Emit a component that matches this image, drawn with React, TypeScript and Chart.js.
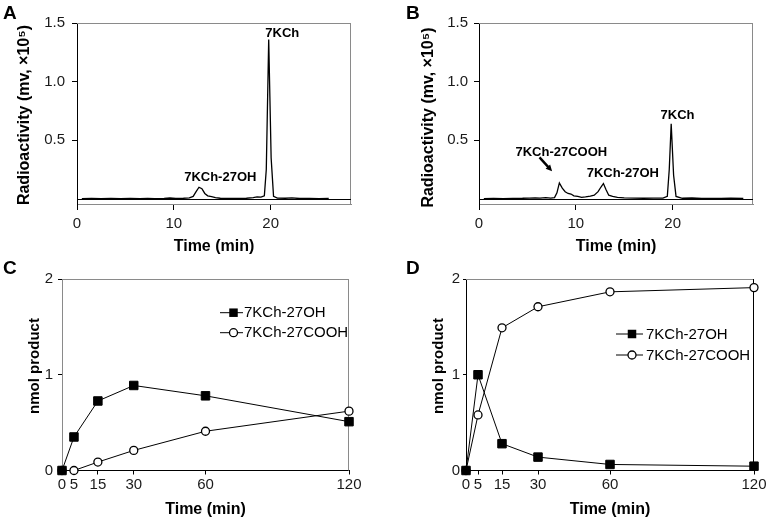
import React, { useEffect, useRef } from 'react';
import { Chart, registerables } from 'chart.js';

Chart.register(...registerables);

const FAMILY = '"Liberation Sans", Arial, Helvetica, sans-serif';
Chart.defaults.font.family = FAMILY;

// ---------------- data ----------------
// Panels A & B: radio-HPLC chromatograms
const CHROM_X_TICKS = [0, 10, 20];
const CHROM_Y_TICKS = [0.5, 1.0, 1.5];
const CHROM_X_MIN = 0;
const CHROM_X_MAX = 28.3;
const CHROM_Y_MIN = -0.045;
const CHROM_Y_MAX = 1.5;

const TRACE_A_TIME = [0.5, 1.5, 2.5, 3.5, 4.5, 5.5, 6.5, 7.3, 8.0, 9.0, 9.6, 10.2, 11.0, 11.6, 12.0, 12.3, 12.6, 12.9, 13.2, 13.5, 13.9, 14.3, 14.8, 15.5, 16.5, 17.5, 18.2, 18.6, 19.0, 19.35, 19.55, 19.8, 20.05, 20.3, 20.7, 21.5, 22.2, 23.0, 24.0, 25.0, 26.0];
const TRACE_A_SIGNAL = [0.000, 0.002, 0.000, 0.002, 0.000, 0.002, 0.000, 0.003, 0.001, 0.002, 0.006, 0.003, 0.004, 0.008, 0.020, 0.060, 0.098, 0.085, 0.045, 0.025, 0.018, 0.010, 0.004, 0.003, 0.002, 0.004, 0.010, 0.015, 0.013, 0.025, 0.250, 1.360, 0.350, 0.020, 0.006, 0.004, 0.008, 0.002, 0.003, 0.001, 0.002];
const PEAK_A_TEXT = ['7KCh-27OH', '7KCh'];
const PEAK_A_TIME = [14.8, 21.2];
const PEAK_A_LEVEL = [0.178, 1.41];

const TRACE_B_TIME = [0.5, 1.5, 2.5, 3.5, 4.5, 5.2, 5.8, 6.3, 6.9, 7.4, 7.8, 8.05, 8.3, 8.6, 8.9, 9.2, 9.5, 9.8, 10.2, 10.6, 11.0, 11.5, 11.9, 12.3, 12.6, 12.85, 13.1, 13.4, 13.8, 14.3, 15.0, 16.0, 17.0, 18.0, 19.0, 19.45, 19.65, 19.85, 20.1, 20.35, 21.0, 22.0, 23.0, 24.0, 25.0, 26.0, 27.3];
const TRACE_B_SIGNAL = [0.000, 0.002, 0.001, 0.003, 0.004, 0.006, 0.008, 0.005, 0.009, 0.006, 0.010, 0.050, 0.135, 0.090, 0.060, 0.045, 0.040, 0.025, 0.020, 0.012, 0.015, 0.022, 0.030, 0.060, 0.100, 0.130, 0.080, 0.030, 0.020, 0.012, 0.008, 0.006, 0.004, 0.005, 0.006, 0.020, 0.250, 0.640, 0.200, 0.020, 0.004, 0.006, 0.002, 0.003, 0.002, 0.004, 0.002];
const PEAK_B_TEXT = ['7KCh-27COOH', '7KCh-27OH', '7KCh'];
const PEAK_B_TIME = [8.5, 14.85, 20.5];
const PEAK_B_LEVEL = [0.395, 0.217, 0.71];
const ARROW_B_TIME = [6.25, 7.55];
const ARROW_B_LEVEL = [0.353, 0.234];

// Panels C & D: time courses
const TIME_POINTS = [0, 5, 15, 30, 60, 120];
const PRODUCT_Y_TICKS = [0, 1, 2];
const SERIES_NAMES = ['7KCh-27OH', '7KCh-27COOH'];
const C_OH = [0, 0.35, 0.726, 0.888, 0.78, 0.51];
const C_COOH = [0, 0, 0.088, 0.21, 0.41, 0.62];
const D_OH = [0, 1.0, 0.28, 0.14, 0.063, 0.045];
const D_COOH = [0, 0.58, 1.49, 1.71, 1.866, 1.91];

// ---------------- helpers ----------------
const GREY = '#8a8a8a';

function overlay(o: any) {
  return {
    id: 'overlay',
    beforeDatasetsDraw(chart: any) {
      const { ctx, chartArea: a, scales } = chart;
      ctx.save();
      ctx.lineWidth = 1;
      const T = Math.round(a.top) + 0.5;
      const R = Math.round(a.right) - 0.5;
      ctx.strokeStyle = o.topColor;
      ctx.beginPath();
      ctx.moveTo(a.left, T);
      ctx.lineTo(a.right, T);
      ctx.stroke();
      ctx.strokeStyle = o.rightColor;
      ctx.beginPath();
      ctx.moveTo(R, a.top);
      ctx.lineTo(R, a.bottom);
      ctx.stroke();
      if (o.zeroLine) {
        const y0 = Math.round(scales.y.getPixelForValue(0)) + 0.5;
        ctx.strokeStyle = '#000';
        ctx.beginPath();
        ctx.moveTo(a.left, y0);
        ctx.lineTo(a.right, y0);
        ctx.stroke();
      }
      ctx.restore();
    },
    afterDatasetsDraw(chart: any) {
      const { ctx, chartArea: a, scales } = chart;
      ctx.save();
      // peak annotations
      if (o.peaks) {
        ctx.font = `bold 13px ${FAMILY}`;
        ctx.fillStyle = '#000';
        ctx.textAlign = 'center';
        ctx.textBaseline = 'middle';
        o.peaks.text.forEach((t: string, i: number) => {
          ctx.fillText(t, scales.x.getPixelForValue(o.peaks.time[i]), scales.y.getPixelForValue(o.peaks.level[i]));
        });
      }
      // arrow
      if (o.arrow) {
        const x1 = scales.x.getPixelForValue(o.arrow.time[0]);
        const y1 = scales.y.getPixelForValue(o.arrow.level[0]);
        const x2 = scales.x.getPixelForValue(o.arrow.time[1]);
        const y2 = scales.y.getPixelForValue(o.arrow.level[1]);
        const ang = Math.atan2(y2 - y1, x2 - x1);
        const head = 7;
        ctx.strokeStyle = '#000';
        ctx.fillStyle = '#000';
        ctx.lineWidth = 2.4;
        ctx.beginPath();
        ctx.moveTo(x1, y1);
        ctx.lineTo(x2 - Math.cos(ang) * head * 0.7, y2 - Math.sin(ang) * head * 0.7);
        ctx.stroke();
        ctx.beginPath();
        ctx.moveTo(x2, y2);
        ctx.lineTo(x2 - head * Math.cos(ang - 0.45), y2 - head * Math.sin(ang - 0.45));
        ctx.lineTo(x2 - head * Math.cos(ang + 0.45), y2 - head * Math.sin(ang + 0.45));
        ctx.closePath();
        ctx.fill();
      }
      // legend
      if (o.legend) {
        const L = o.legend;
        ctx.font = `15px ${FAMILY}`;
        ctx.textAlign = 'left';
        ctx.textBaseline = 'middle';
        SERIES_NAMES.forEach((name, i) => {
          const y = L.rows[i];
          ctx.strokeStyle = '#000';
          ctx.lineWidth = 1;
          ctx.beginPath();
          ctx.moveTo(L.x0, y);
          ctx.lineTo(L.x1, y);
          ctx.stroke();
          if (i === 0) {
            ctx.fillStyle = '#000';
            ctx.fillRect(L.mx - 4.25, y - 4.25, 8.5, 8.5);
          } else {
            ctx.fillStyle = '#fff';
            ctx.lineWidth = 1.3;
            ctx.beginPath();
            ctx.arc(L.mx, y, 4, 0, Math.PI * 2);
            ctx.fill();
            ctx.stroke();
          }
          ctx.fillStyle = '#000';
          ctx.fillText(name, L.tx, y + 0.5);
        });
      }
      // y title
      ctx.font = `bold ${o.yTitleSize}px ${FAMILY}`;
      ctx.fillStyle = '#000';
      ctx.textAlign = 'center';
      ctx.textBaseline = 'middle';
      ctx.translate(o.yTitleX, (a.top + a.bottom) / 2 + o.yTitleShift);
      ctx.rotate(-Math.PI / 2);
      ctx.fillText(o.yTitle, 0, 0);
      ctx.restore();
    },
  };
}

function xAxis(p: any) {
  return {
    type: 'linear',
    min: p.min,
    max: p.max,
    afterBuildTicks: (s: any) => {
      s.ticks = p.ticks.map((v: number) => ({ value: v }));
    },
    afterFit: (s: any) => {
      s.height = p.height;
      s.paddingLeft = 0;
      s.paddingRight = 0;
    },
    grid: { drawOnChartArea: false, drawTicks: true, tickLength: p.tickLength, tickColor: '#000', tickWidth: 1 },
    border: { display: true, color: p.borderColor, width: 1 },
    ticks: {
      autoSkip: false,
      maxRotation: 0,
      padding: p.padding,
      color: '#1a1a1a',
      font: { size: 15, family: FAMILY },
      callback: (v: any) => String(v),
    },
    title: {
      display: true,
      text: 'Time (min)',
      color: '#000',
      font: { size: 16, weight: 'bold', family: FAMILY },
      padding: { top: 0, bottom: p.titleBottom },
    },
  };
}

function yAxis(p: any) {
  return {
    type: 'linear',
    min: p.min,
    max: p.max,
    afterBuildTicks: (s: any) => {
      s.ticks = p.ticks.map((v: number) => ({ value: v }));
    },
    afterFit: (s: any) => {
      s.width = p.width;
      s.paddingTop = 0;
      s.paddingBottom = 0;
    },
    grid: { drawOnChartArea: false, drawTicks: true, tickLength: p.tickLength, tickColor: '#000', tickWidth: 1 },
    border: { display: true, color: p.borderColor, width: 1 },
    ticks: {
      autoSkip: false,
      padding: p.padding,
      color: '#1a1a1a',
      font: { size: 15, family: FAMILY },
      callback: p.format,
    },
    title: { display: false },
  };
}

function chromConfig(p: any) {
  return {
    type: 'line',
    data: {
      datasets: [
        {
          data: p.time.map((t: number, i: number) => ({ x: t, y: p.signal[i] })),
          borderColor: '#000',
          borderWidth: 1.3,
          pointRadius: 0,
          tension: 0,
          fill: false,
        },
      ],
    },
    options: {
      animation: false,
      responsive: false,
      devicePixelRatio: 1,
      layout: { padding: { left: 0, top: 23, right: p.padRight, bottom: 0 } },
      plugins: { legend: { display: false }, tooltip: { enabled: false } },
      scales: {
        x: xAxis({ min: CHROM_X_MIN, max: CHROM_X_MAX, ticks: CHROM_X_TICKS, height: 56, tickLength: 6, padding: 5, borderColor: GREY, titleBottom: 3.4 }),
        y: yAxis({ min: CHROM_Y_MIN, max: CHROM_Y_MAX, ticks: CHROM_Y_TICKS, width: p.yWidth, tickLength: 5, padding: p.yPad, borderColor: '#000', format: (v: any) => Number(v).toFixed(1) }),
      },
    },
    plugins: [
      overlay({
        topColor: GREY,
        rightColor: GREY,
        zeroLine: true,
        peaks: p.peaks,
        arrow: p.arrow,
        yTitle: 'Radioactivity (mv, ×10⁵)',
        yTitleSize: 16,
        yTitleX: p.yTitleX,
        yTitleShift: p.yTitleShift,
      }),
    ],
  };
}

function courseConfig(p: any) {
  return {
    type: 'line',
    data: {
      datasets: [
        {
          label: SERIES_NAMES[0],
          data: TIME_POINTS.map((t, i) => ({ x: t, y: p.oh[i] })),
          borderColor: '#000',
          backgroundColor: '#000',
          borderWidth: 1,
          pointStyle: 'rect',
          pointRadius: 6,
          pointBorderWidth: 1,
          pointBackgroundColor: '#000',
          pointBorderColor: '#000',
          tension: 0,
          clip: false,
        },
        {
          label: SERIES_NAMES[1],
          data: TIME_POINTS.map((t, i) => ({ x: t, y: p.cooh[i] })),
          borderColor: '#000',
          backgroundColor: '#fff',
          borderWidth: 1,
          pointStyle: 'circle',
          pointRadius: 4,
          pointBorderWidth: 1.3,
          pointBackgroundColor: '#fff',
          pointBorderColor: '#000',
          tension: 0,
          clip: false,
        },
      ],
    },
    options: {
      animation: false,
      responsive: false,
      devicePixelRatio: 1,
      layout: { padding: { left: 0, top: 19, right: p.padRight, bottom: 0 } },
      plugins: { legend: { display: false }, tooltip: { enabled: false } },
      scales: {
        x: xAxis({ min: 0, max: 120, ticks: TIME_POINTS, height: 48.5, tickLength: 4, padding: 1, borderColor: '#000', titleBottom: 0 }),
        y: yAxis({ min: 0, max: 2, ticks: PRODUCT_Y_TICKS, width: p.yWidth, tickLength: p.yTick, padding: p.yPad, borderColor: p.yBorder, format: (v: any) => String(v) }),
      },
    },
    plugins: [
      overlay({
        topColor: GREY,
        rightColor: p.rightColor,
        zeroLine: false,
        legend: p.legend,
        yTitle: 'nmol product',
        yTitleSize: 15,
        yTitleX: p.yTitleX,
        yTitleShift: -8.75,
      }),
    ],
  };
}

function ChartCanvas({ left, top, width, height, build }: any) {
  const ref = useRef<HTMLCanvasElement>(null);
  useEffect(() => {
    const chart = new Chart(ref.current as HTMLCanvasElement, build() as any);
    return () => chart.destroy();
  }, []);
  return (
    <canvas
      ref={ref}
      width={width}
      height={height}
      style={{ position: 'absolute', left, top, width, height }}
    />
  );
}

const letterStyle = (left: number, top: number): React.CSSProperties => ({
  position: 'absolute',
  left,
  top,
  fontFamily: FAMILY,
  fontWeight: 'bold',
  fontSize: 19,
  lineHeight: '19px',
  color: '#000',
});

export default function App() {
  return (
    <div style={{ position: 'fixed', left: 0, top: 0, width: 766, height: 519, background: '#fff', overflow: 'hidden' }}>
      <ChartCanvas
        left={0}
        top={0}
        width={383}
        height={260}
        build={() =>
          chromConfig({
            time: TRACE_A_TIME,
            signal: TRACE_A_SIGNAL,
            padRight: 32,
            yWidth: 77,
            yPad: 7,
            yTitleX: 25,
            yTitleShift: 1.5,
            peaks: { text: PEAK_A_TEXT, time: PEAK_A_TIME, level: PEAK_A_LEVEL },
          })
        }
      />
      <ChartCanvas
        left={383}
        top={0}
        width={383}
        height={260}
        build={() =>
          chromConfig({
            time: TRACE_B_TIME,
            signal: TRACE_B_SIGNAL,
            padRight: 13,
            yWidth: 96,
            yPad: 6,
            yTitleX: 46,
            yTitleShift: 4,
            peaks: { text: PEAK_B_TEXT, time: PEAK_B_TIME, level: PEAK_B_LEVEL },
            arrow: { time: ARROW_B_TIME, level: ARROW_B_LEVEL },
          })
        }
      />
      <ChartCanvas
        left={0}
        top={260}
        width={383}
        height={259}
        build={() =>
          courseConfig({
            oh: C_OH,
            cooh: C_COOH,
            padRight: 34,
            yWidth: 62,
            yTick: 4,
            yPad: 5,
            yBorder: GREY,
            rightColor: GREY,
            yTitleX: 35,
            legend: { x0: 220, x1: 243, mx: 233.5, tx: 244, rows: [52.7, 72.7] },
          })
        }
      />
      <ChartCanvas
        left={383}
        top={260}
        width={383}
        height={259}
        build={() =>
          courseConfig({
            oh: D_OH,
            cooh: D_COOH,
            padRight: 12,
            yWidth: 83,
            yTick: 3,
            yPad: 3,
            yBorder: '#000',
            rightColor: '#000',
            yTitleX: 56,
            legend: { x0: 233, x1: 260, mx: 249, tx: 263, rows: [74, 95] },
          })
        }
      />
      <div style={letterStyle(3, 2.5)}>A</div>
      <div style={letterStyle(406, 2.5)}>B</div>
      <div style={letterStyle(3, 257.5)}>C</div>
      <div style={letterStyle(406, 257.5)}>D</div>
    </div>
  );
}
